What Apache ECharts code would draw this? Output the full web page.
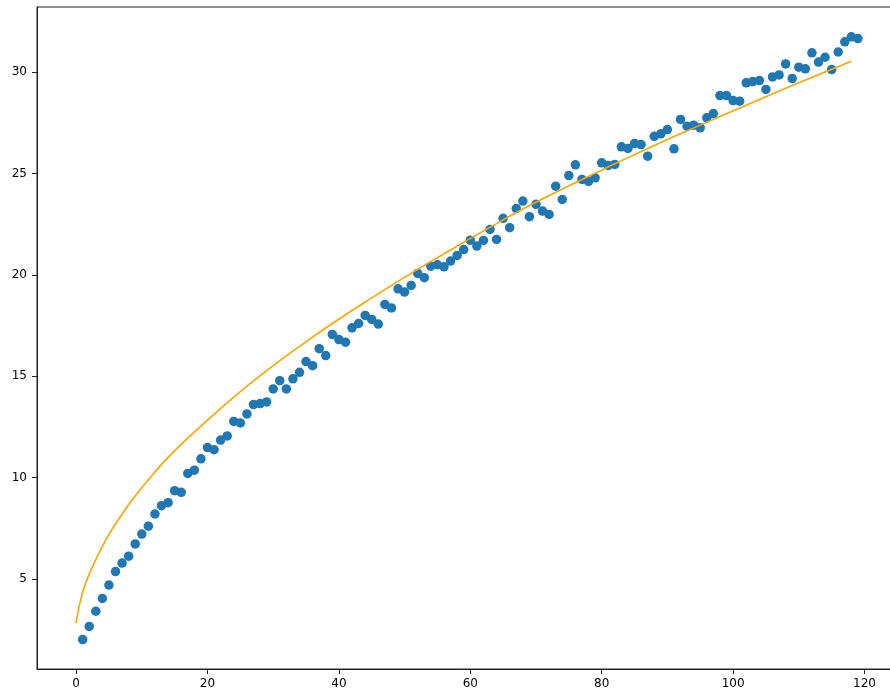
<!DOCTYPE html>
<html>
<head>
<meta charset="utf-8">
<script src="https://cdn.jsdelivr.net/npm/echarts@6/dist/echarts.min.js"></script>
<style>
  html, body { margin: 0; padding: 0; background: #fff; }
  #chart { width: 890px; height: 690px; }
</style>
</head>
<body>
<div id="chart"></div>
<script>
// scatter points (x = 1..119)
const pointX = [];
for (let i = 1; i <= 119; i++) pointX.push(i);
const pointY = [
  2.0, 2.65, 3.4, 4.03, 4.69, 5.36, 5.78, 6.12, 6.72, 7.21,
  7.6, 8.2, 8.61, 8.76, 9.35, 9.27, 10.2, 10.36, 10.92, 11.48,
  11.37, 11.85, 12.05, 12.77, 12.69, 13.14, 13.6, 13.65, 13.73, 14.37,
  14.78, 14.37, 14.87, 15.19, 15.72, 15.52, 16.36, 16.02, 17.06, 16.81,
  16.68, 17.39, 17.6, 18.0, 17.8, 17.57, 18.54, 18.37, 19.31, 19.15,
  19.48, 20.07, 19.86, 20.43, 20.5, 20.4, 20.68, 20.96, 21.25, 21.71,
  21.42, 21.7, 22.24, 21.75, 22.79, 22.33, 23.27, 23.64, 22.87, 23.48,
  23.15, 22.98, 24.38, 23.72, 24.9, 25.43, 24.71, 24.61, 24.79, 25.53,
  25.4, 25.45, 26.32, 26.24, 26.48, 26.43, 25.86, 26.84, 26.96, 27.17,
  26.22, 27.67, 27.34, 27.39, 27.26, 27.75, 27.96, 28.85, 28.85, 28.6,
  28.57, 29.48, 29.54, 29.59, 29.15, 29.77, 29.87, 30.41, 29.69, 30.25,
  30.17, 30.96, 30.5, 30.74, 30.13, 31.0, 31.5, 31.75, 31.66
];

// fitted curve
const curveX = [0, 1, 2.5, 4.6, 6.6, 8.6, 11.7, 14.7, 19, 24, 29, 34, 39, 44, 49, 54, 59, 64, 69, 76, 82, 88, 95, 101, 107, 113, 118];
const curveY = [2.82, 4.35, 5.6, 6.97, 8.0, 8.93, 10.16, 11.23, 12.54, 13.97, 15.27, 16.47, 17.6, 18.66, 19.68, 20.66, 21.61, 22.53, 23.42, 24.55, 25.48, 26.39, 27.39, 28.24, 29.07, 29.88, 30.54];

const xTicks = [0, 20, 40, 60, 80, 100, 120];
const yTicks = [5, 10, 15, 20, 25, 30];

const chart = echarts.init(document.getElementById('chart'), null, {renderer: 'canvas'});

const axisText = { color: '#000', fontFamily: 'DejaVu Sans', fontSize: 12 };

const option = {
    animation: false,
    backgroundColor: '#fff',
    grid: {
        left: 37,
        top: 7,
        width: 860,
        bottom: 21,
        outerBoundsMode: 'none',
        containLabel: false,
        show: true,
        borderColor: '#222',
        borderWidth: 1
    },
    xAxis: {
        type: 'value',
        min: -5.95,
        max: 124.95,
        axisLine: { show: true, onZero: false, lineStyle: { color: '#222', width: 1 } },
        axisTick: { show: true, length: 5, customValues: xTicks, lineStyle: { color: '#222' } },
        axisLabel: Object.assign({ margin: 9, customValues: xTicks }, axisText),
        splitLine: { show: false }
    },
    yAxis: {
        type: 'value',
        min: 0.55,
        max: 33.22,
        axisLine: { show: true, onZero: false, lineStyle: { color: '#222', width: 1 } },
        axisTick: { show: true, length: 5, customValues: yTicks, lineStyle: { color: '#222' } },
        axisLabel: Object.assign({ margin: 10, customValues: yTicks }, axisText),
        splitLine: { show: false }
    },
    series: [
        {
            type: 'scatter',
            data: pointX.map((x, i) => [x, pointY[i]]),
            symbol: 'circle',
            symbolSize: 9.5,
            itemStyle: { color: '#1f77b4', opacity: 1 },
            z: 2
        },
        {
            type: 'line',
            data: curveX.map((x, i) => [x, curveY[i]]),
            showSymbol: false,
            smooth: 0.5,
            lineStyle: { color: '#ffa500', width: 1.6 },
            z: 3
        }
    ]
};

chart.setOption(option);
</script>
</body>
</html>
